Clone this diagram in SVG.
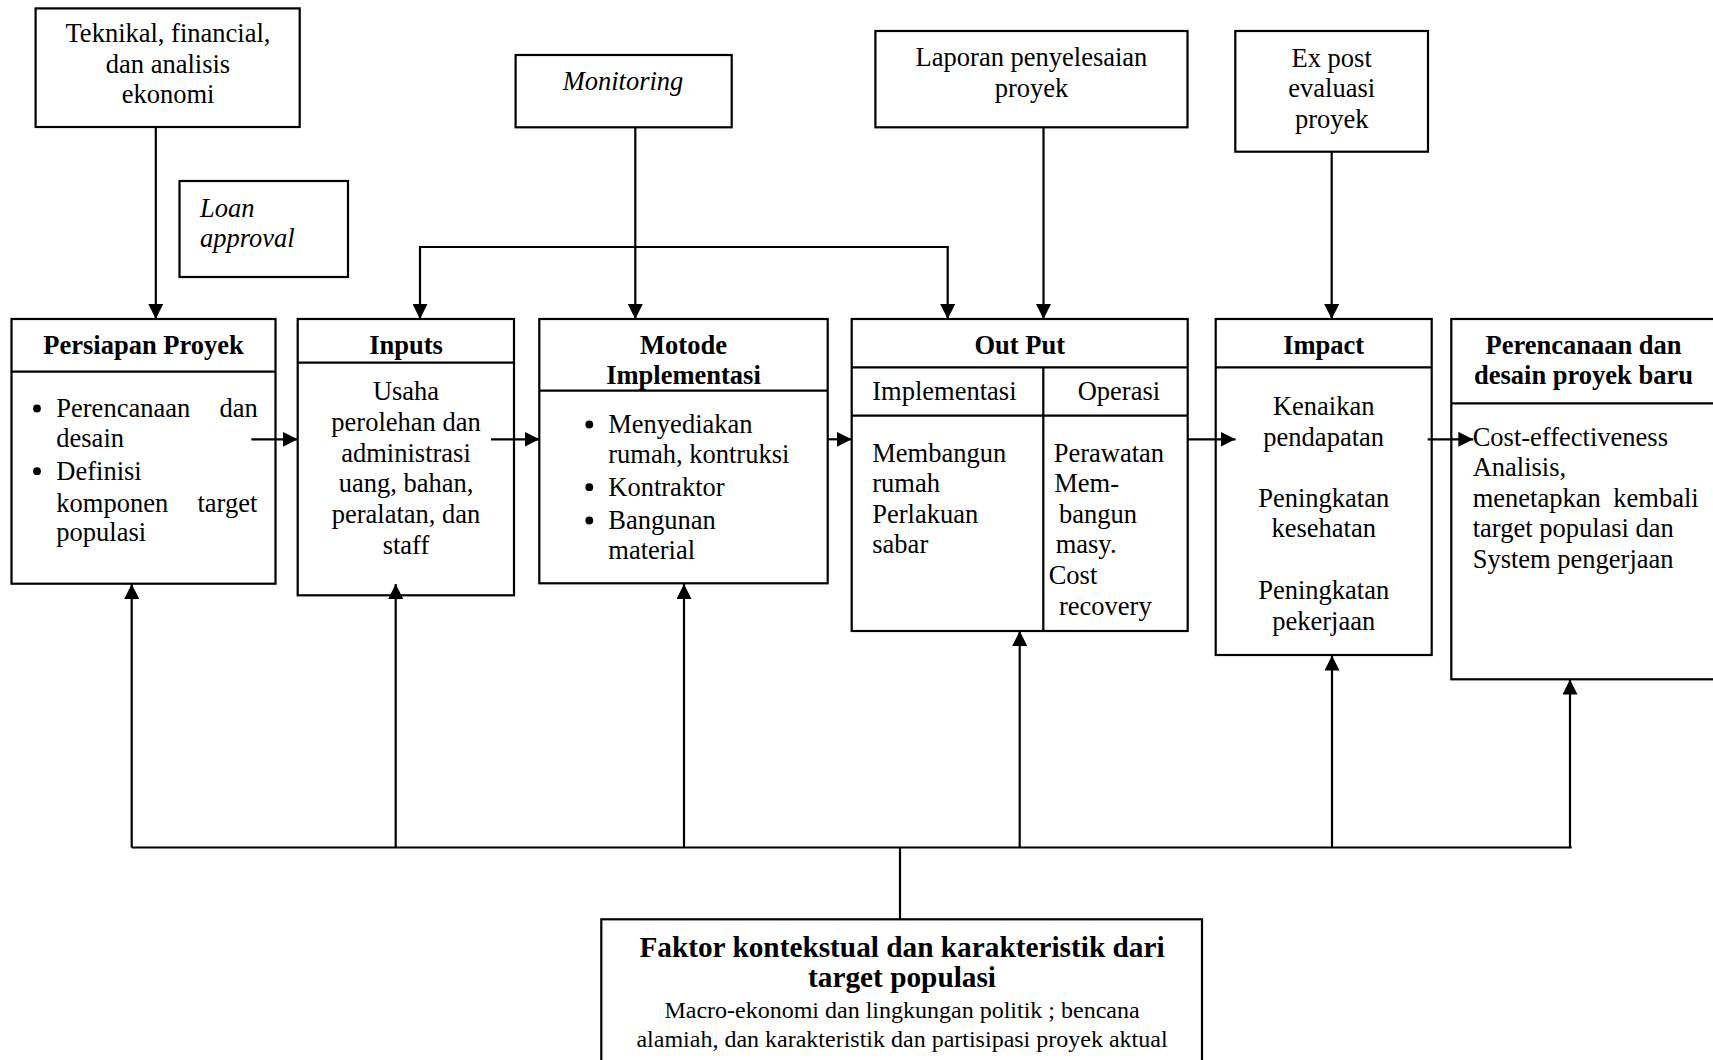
<svg xmlns="http://www.w3.org/2000/svg" width="1713" height="1060" viewBox="0 0 1713 1060">
<defs>
<marker id="ah" viewBox="0 0 15 15" markerUnits="userSpaceOnUse" markerWidth="15" markerHeight="15" refX="15" refY="7.5" orient="auto">
<path d="M0,0 L15,7.5 L0,15 Z" fill="#000"/>
</marker>
<style>
.b{fill:#fff;stroke:#000;stroke-width:2.2}
.d{stroke:#000;stroke-width:2.2;fill:none}
.l{stroke:#000;stroke-width:2.2;fill:none}
.a{marker-end:url(#ah)}
text{font-family:"Liberation Serif","Times New Roman",serif;font-size:26.5px;fill:#000}
.c{text-anchor:middle}
.t{font-weight:bold}
.i{font-style:italic}
.dot{fill:#000}
</style>
</defs>
<rect width="1713" height="1060" fill="#fff"/>

<g id="teknikal">
<rect class="b" x="35.6" y="8.4" width="264.1" height="118.6"/>
<text class="c" x="168" y="41.7">Teknikal, financial,</text>
<text class="c" x="168" y="72.7">dan analisis</text>
<text class="c" x="168" y="103.3">ekonomi</text>
</g>

<g id="loan">
<rect class="b" x="179.5" y="181" width="168.5" height="96"/>
<text class="i" x="200" y="216.7">Loan</text>
<text class="i" x="200" y="246.7">approval</text>
</g>

<g id="monitoring">
<rect class="b" x="515.6" y="55" width="216.1" height="72.3"/>
<text class="c i" x="623" y="90">Monitoring</text>
</g>

<g id="laporan">
<rect class="b" x="875.4" y="31" width="312.1" height="96.3"/>
<text class="c" x="1031.5" y="65.7">Laporan penyelesaian</text>
<text class="c" x="1031.5" y="96.7">proyek</text>
</g>

<g id="expost">
<rect class="b" x="1235.3" y="31" width="192.7" height="120.7"/>
<text class="c" x="1331.7" y="66.7">Ex post</text>
<text class="c" x="1331.7" y="96.7">evaluasi</text>
<text class="c" x="1331.7" y="127.7">proyek</text>
</g>

<g id="persiapan">
<rect class="b" x="11.5" y="319" width="264" height="264.7"/>
<path class="d" d="M11.5,371.7 H275.5"/>
<text class="c t" x="143.5" y="354.3">Persiapan Proyek</text>
<circle class="dot" cx="37" cy="408.5" r="3.9"/>
<text x="56.3" y="417.3" word-spacing="22.8">Perencanaan dan</text>
<text x="56.3" y="447.3">desain</text>
<circle class="dot" cx="37" cy="471.2" r="3.9"/>
<text x="56.3" y="480">Definisi</text>
<text x="56.3" y="511.7" word-spacing="22.7">komponen target</text>
<text x="56.3" y="540.7">populasi</text>
</g>

<g id="inputs">
<rect class="b" x="297.7" y="319" width="216.3" height="276.3"/>
<path class="d" d="M297.7,362.7 H514"/>
<text class="c t" x="406" y="354.3">Inputs</text>
<text class="c" x="406" y="400">Usaha</text>
<text class="c" x="406" y="431.3">perolehan dan</text>
<text class="c" x="406" y="461.7">administrasi</text>
<text class="c" x="406" y="492.3">uang, bahan,</text>
<text class="c" x="406" y="522.7">peralatan, dan</text>
<text class="c" x="406" y="554">staff</text>
</g>

<g id="motode">
<rect class="b" x="539.3" y="319" width="288.4" height="264.3"/>
<path class="d" d="M539.3,390.7 H827.7"/>
<text class="c t" x="683.5" y="354.3">Motode</text>
<text class="c t" x="683.5" y="384">Implementasi</text>
<circle class="dot" cx="589.3" cy="424.5" r="3.9"/>
<text x="608.3" y="433.3">Menyediakan</text>
<text x="608.3" y="463.3">rumah, kontruksi</text>
<circle class="dot" cx="589.3" cy="487.2" r="3.9"/>
<text x="608.3" y="496">Kontraktor</text>
<circle class="dot" cx="589.3" cy="520.5" r="3.9"/>
<text x="608.3" y="529.3">Bangunan</text>
<text x="608.3" y="559.3">material</text>
</g>

<g id="output">
<rect class="b" x="851.7" y="319" width="336" height="312"/>
<path class="d" d="M851.7,367.3 H1187.7 M851.7,415.7 H1187.7 M1043.3,367.3 V631"/>
<text class="c t" x="1019.7" y="354.3">Out Put</text>
<text x="872.3" y="400">Implementasi</text>
<text x="1077.7" y="400">Operasi</text>
<text x="872.3" y="461.7">Membangun</text>
<text x="872.3" y="492.3">rumah</text>
<text x="872.3" y="522.7">Perlakuan</text>
<text x="872.3" y="553.3">sabar</text>
<text x="1053.7" y="461.7">Perawatan</text>
<text x="1054.3" y="492.3">Mem-</text>
<text x="1059" y="522.7">bangun</text>
<text x="1055.7" y="553.3">masy.</text>
<text x="1048.7" y="584.3">Cost</text>
<text x="1059" y="615">recovery</text>
</g>

<g id="impact">
<rect class="b" x="1215.7" y="319" width="216" height="336"/>
<path class="d" d="M1215.7,367.3 H1431.7"/>
<text class="c t" x="1323.7" y="354.3">Impact</text>
<text class="c" x="1323.7" y="415">Kenaikan</text>
<text class="c" x="1323.7" y="445.7">pendapatan</text>
<text class="c" x="1323.7" y="507.3">Peningkatan</text>
<text class="c" x="1323.7" y="537.3">kesehatan</text>
<text class="c" x="1323.7" y="599.3">Peningkatan</text>
<text class="c" x="1323.7" y="630">pekerjaan</text>
</g>

<g id="perencanaan">
<rect class="b" x="1451.3" y="319" width="280" height="360.3"/>
<path class="d" d="M1451.3,403.3 H1731"/>
<text class="c t" x="1583.5" y="354.3">Perencanaan dan</text>
<text class="c t" x="1583.5" y="384">desain proyek baru</text>
<text x="1472.7" y="445.7">Cost-effectiveness</text>
<text x="1472.7" y="475.7">Analisis,</text>
<text x="1472.7" y="507" word-spacing="6">menetapkan kembali</text>
<text x="1472.7" y="537.3">target populasi dan</text>
<text x="1472.7" y="568.3">System pengerjaan</text>
</g>

<g id="faktor">
<rect class="b" x="601.3" y="919.3" width="600.7" height="160"/>
<text class="c t" x="902" y="956.7" style="font-size:29.3px">Faktor kontekstual dan karakteristik dari</text>
<text class="c t" x="902" y="987.3" style="font-size:29.3px">target populasi</text>
<text class="c" x="902" y="1018.3" style="font-size:24px">Macro-ekonomi dan lingkungan politik ; bencana</text>
<text class="c" x="902" y="1046.7" style="font-size:24px">alamiah, dan karakteristik dan partisipasi proyek aktual</text>
</g>

<g id="connectors">
<path class="l a" d="M155.8,127 V319"/>
<path class="l a" d="M635.3,127.3 V319"/>
<path class="l a" d="M635.3,247 H420 V319"/>
<path class="l a" d="M635.3,247 H947.7 V319"/>
<path class="l a" d="M1043.5,127.3 V319"/>
<path class="l a" d="M1331.7,151.7 V319"/>
<path class="l a" d="M251.4,439.3 H297.7"/>
<path class="l a" d="M491,439.3 H539.6"/>
<path class="l a" d="M827.7,439.3 H851.7"/>
<path class="l a" d="M1187.7,439.3 H1235.5"/>
<path class="l a" d="M1427.7,439.3 H1473.3"/>
<path class="l" d="M131.7,847.5 H1571.7"/>
<path class="l a" d="M131.7,847.5 V584"/>
<path class="l a" d="M395.7,847.5 V584"/>
<path class="l a" d="M684,847.5 V584"/>
<path class="l a" d="M1019.7,847.5 V631"/>
<path class="l a" d="M1332,847.5 V655.5"/>
<path class="l a" d="M1570,847.5 V679.5"/>
<path class="l" d="M900,847.5 V919.3"/>
</g>
</svg>
